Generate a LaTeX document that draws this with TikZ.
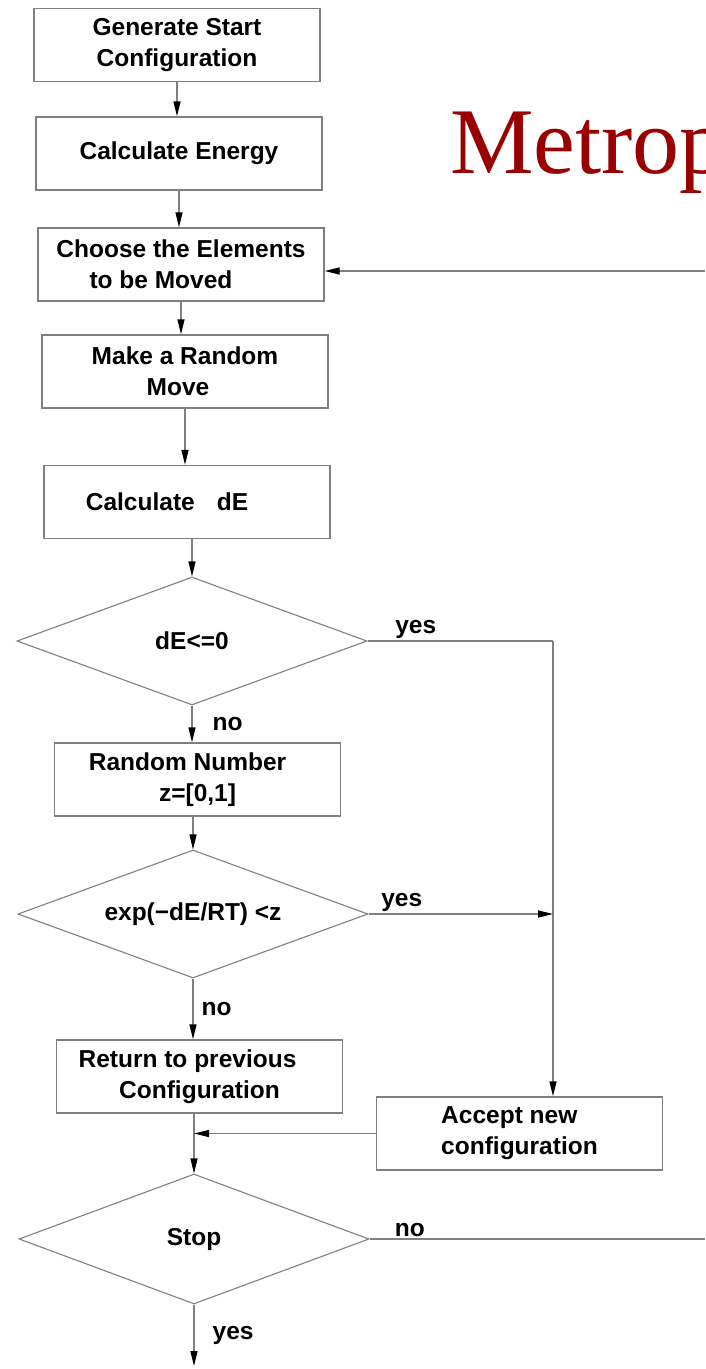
\documentclass[tikz,border=0pt]{standalone}
\usepackage{fontspec}
\setmainfont{Liberation Sans}
\newfontfamily\titlefont{Liberation Serif}
\usetikzlibrary{shapes.geometric,arrows.meta}
\definecolor{linegray}{RGB}{128,128,128}
\definecolor{titlered}{RGB}{153,0,0}
\begin{document}
\begin{tikzpicture}[x=1pt,y=-1pt,
  boxnode/.style={draw=linegray,line width=1.3pt,minimum width=286pt,minimum height=73pt,inner sep=0pt,
     font=\fontsize{24.5}{31}\selectfont\bfseries,align=center},
  decnode/.style={draw=linegray,line width=1.1pt,shape=diamond,aspect=2.73,minimum width=350pt,minimum height=128pt,inner sep=0pt,
     font=\fontsize{24.5}{31}\selectfont\bfseries},
  flow/.style={draw=linegray,line width=1.3pt},
  arr/.style={flow,-{Triangle[length=15pt,width=7pt,color=black]}},
  lbl/.style={font=\fontsize{24.5}{31}\selectfont\bfseries,inner sep=2pt}
]
\useasboundingbox (0,0) rectangle (705,1369);
\fill[white] (0,0) rectangle (705,1369);

\begin{scope}
\clip (0,0) rectangle (705,1369);
\node[anchor=base west,inner sep=0pt,text=titlered,font=\titlefont\fontsize{94}{100}\selectfont] (title) at (450,173) {Metrop};
\end{scope}

\node[boxnode] (b1) at (177,45) {Generate Start\\Configuration};
\node[boxnode] (b2) at (179,153.5) {Calculate Energy};
\node[boxnode,align=left] (b3) at (181,264.5) {Choose the Elements\\\hspace*{1.35em}to be Moved};
\node[boxnode] (b4) at (185,371.5) {Make a Random\\Move\hspace*{14pt}};
\node[boxnode] (b5) at (187,502) {Calculate\hspace{0.9em}dE\hspace*{40pt}};
\node[decnode] (d1) at (192,641) {dE<=0};
\node[boxnode] (b7) at (197.5,779.5) {Random Number\hspace*{20pt}\\z=[0,1]};
\node[decnode] (d2) at (193,914) {exp(−dE/RT) <z};
\node[boxnode] (b9) at (199.5,1076.5) {Return to previous\hspace*{24pt}\\Configuration};
\node[boxnode,align=left] (b10) at (519.5,1133.5) {Accept new\\configuration};
\node[decnode,minimum height=130pt] (stop) at (194,1239) {Stop};

\coordinate (vline) at (553,0);
\coordinate (rightedge) at (705,0);
\coordinate (fb) at (705,271);

\draw[arr] (b1.south) -- (b1.south |- b2.north);
\draw[arr] (b2.south) -- (b2.south |- b3.north);
\draw[arr] (b3.south) -- (b3.south |- b4.north);
\draw[arr] (b4.south) -- (b4.south |- b5.north);
\draw[arr] (d1.north |- b5.south) -- (d1.north);
\draw[arr] (d1.south) -- node[lbl,anchor=west,xshift=18pt]{no} (d1.south |- b7.north);
\draw[arr] (d2.north |- b7.south) -- (d2.north);
\draw[arr] (d2.south) -- node[lbl,anchor=west,xshift=6pt]{no} (d2.south |- b9.north);
\draw[arr] (stop.north |- b9.south) -- (stop.north);
\draw[arr] (stop.south) -- node[lbl,anchor=west,xshift=16pt]{yes} (stop.south |- 0,1366);

\draw[flow] (d1.east) -- node[lbl,anchor=south,pos=0.26]{yes} (d1.east -| vline);
\draw[arr] (d1.east -| vline) -- (vline |- b10.north);
\draw[arr] (d2.east) -- node[lbl,anchor=south,pos=0.18]{yes} (d2.east -| vline);
\draw[arr] (b10.west) -- (b10.west -| stop.north);
\draw[flow] (stop.east) -- node[lbl,anchor=south,pos=0.12]{no} (stop.east -| rightedge);
\draw[arr] (fb) -- (fb -| b3.east);
\end{tikzpicture}
\end{document}
